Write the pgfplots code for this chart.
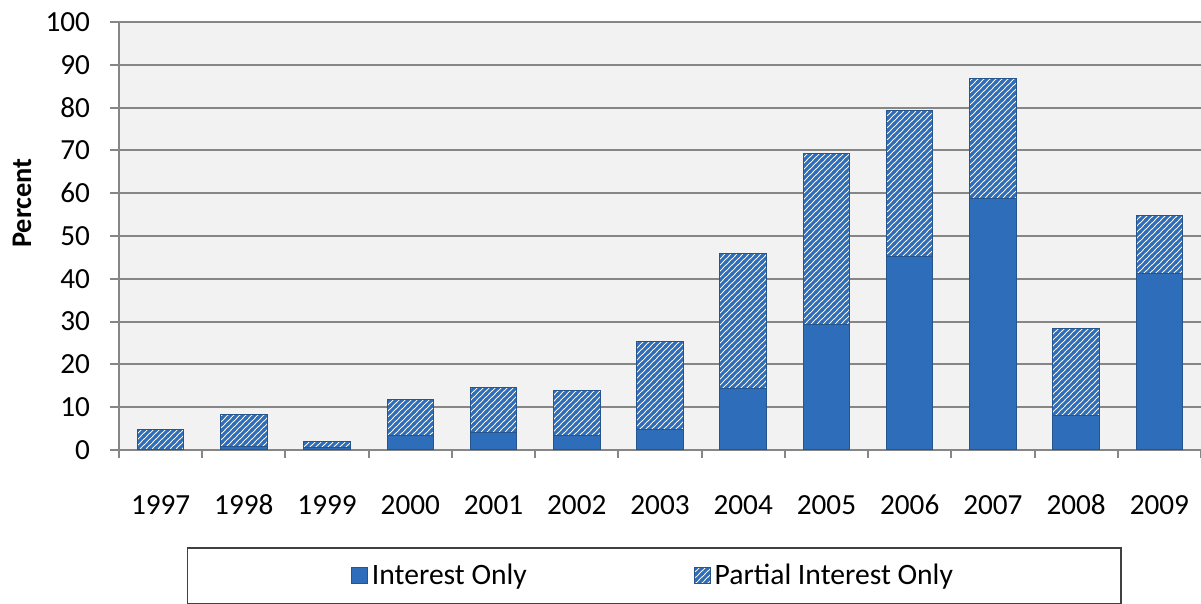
\documentclass[border=0pt]{standalone}
\usepackage{fontspec}
\setmainfont{Carlito}
\usepackage{pgfplots}
\usepackage{pgfplotstable}
\pgfplotsset{compat=1.18}
\usetikzlibrary{patterns}

\definecolor{ioblue}{RGB}{46,109,185}
\definecolor{baredge}{RGB}{38,84,140}
\definecolor{plotbg}{RGB}{242,242,242}
\definecolor{gridgray}{RGB}{134,134,134}

% wide upward diagonal, like the spreadsheet hatch
\pgfdeclarepatternformonly{wideup}{\pgfqpoint{-1pt}{-1pt}}{\pgfqpoint{4pt}{4pt}}{\pgfqpoint{3pt}{3pt}}{%
  \pgfsetlinewidth{1.45pt}%
  \pgfpathmoveto{\pgfqpoint{-0.5pt}{-0.5pt}}%
  \pgfpathlineto{\pgfqpoint{3.5pt}{3.5pt}}%
  \pgfusepath{stroke}}

\pgfplotstableread{
idx year io  pio
0  1997 0.2  4.6
1  1998 0.9  7.3
2  1999 0.5  1.5
3  2000 3.5  8.4
4  2001 4.1  10.6
5  2002 3.4  10.6
6  2003 4.8  20.5
7  2004 14.4 31.4
8  2005 29.3 39.9
9  2006 45.3 34.0
10 2007 58.8 28.0
11 2008 8.1  20.4
12 2009 41.3 13.4
}\data

\begin{document}
\begin{tikzpicture}
\begin{axis}[
    width=541pt, height=214pt, scale only axis,
    ybar stacked, bar width=0.56,
    xmin=-0.5, xmax=12.5, ymin=0, ymax=100,
    ytick={0,10,...,100},
    xtick={0,...,12},
    xticklabels={1997,1998,1999,2000,2001,2002,2003,2004,2005,2006,2007,2008,2009},
    minor xtick={-0.5,0.5,...,12.5},
    major x tick style={draw=none},
    tick align=outside,
    major tick length=4.5pt, minor tick length=4pt,
    tick style={gridgray, line width=1pt},
    axis x line*=bottom, axis y line*=left,
    axis line style={gridgray, line width=1pt},
    ymajorgrids, grid style={gridgray, line width=1pt},
    axis background/.style={fill=plotbg},
    /pgf/number format/assume math mode=true,
    tick label style={font=\fontsize{14.6}{17}\selectfont},
    xticklabel style={anchor=base, yshift=-28pt},
    yticklabel style={xshift=-6.5pt},
    ylabel={Percent},
    ylabel style={font=\fontsize{14.2}{17}\selectfont\bfseries, at={(rel axis cs:-0.0896,0.577)}, anchor=center},
    legend columns=2,
    legend style={at={(rel axis cs:0.4945,-0.294)}, anchor=center,
        draw=black!75, line width=0.6pt, fill=white,
        inner xsep=82pt, inner ysep=6pt,
        font=\fontsize{14.8}{17}\selectfont,
        /tikz/every even column/.append style={column sep=81.5pt}},
    legend image code/.code={\draw[#1, line width=0.4pt] (0pt,-4pt) rectangle (8pt,4pt);},
]
\addplot[fill=ioblue, draw=baredge, line width=0.5pt] table[x=idx, y=io] {\data};
\addplot[draw=baredge, line width=0.5pt, pattern=wideup, pattern color=ioblue, preaction={fill=white}] table[x=idx, y=pio] {\data};
\legend{Interest Only, Partial Interest Only}
\end{axis}
\pgfresetboundingbox
\path[use as bounding box] (-59.5pt,-77pt) rectangle (541pt,225pt);
\end{tikzpicture}
\end{document}
